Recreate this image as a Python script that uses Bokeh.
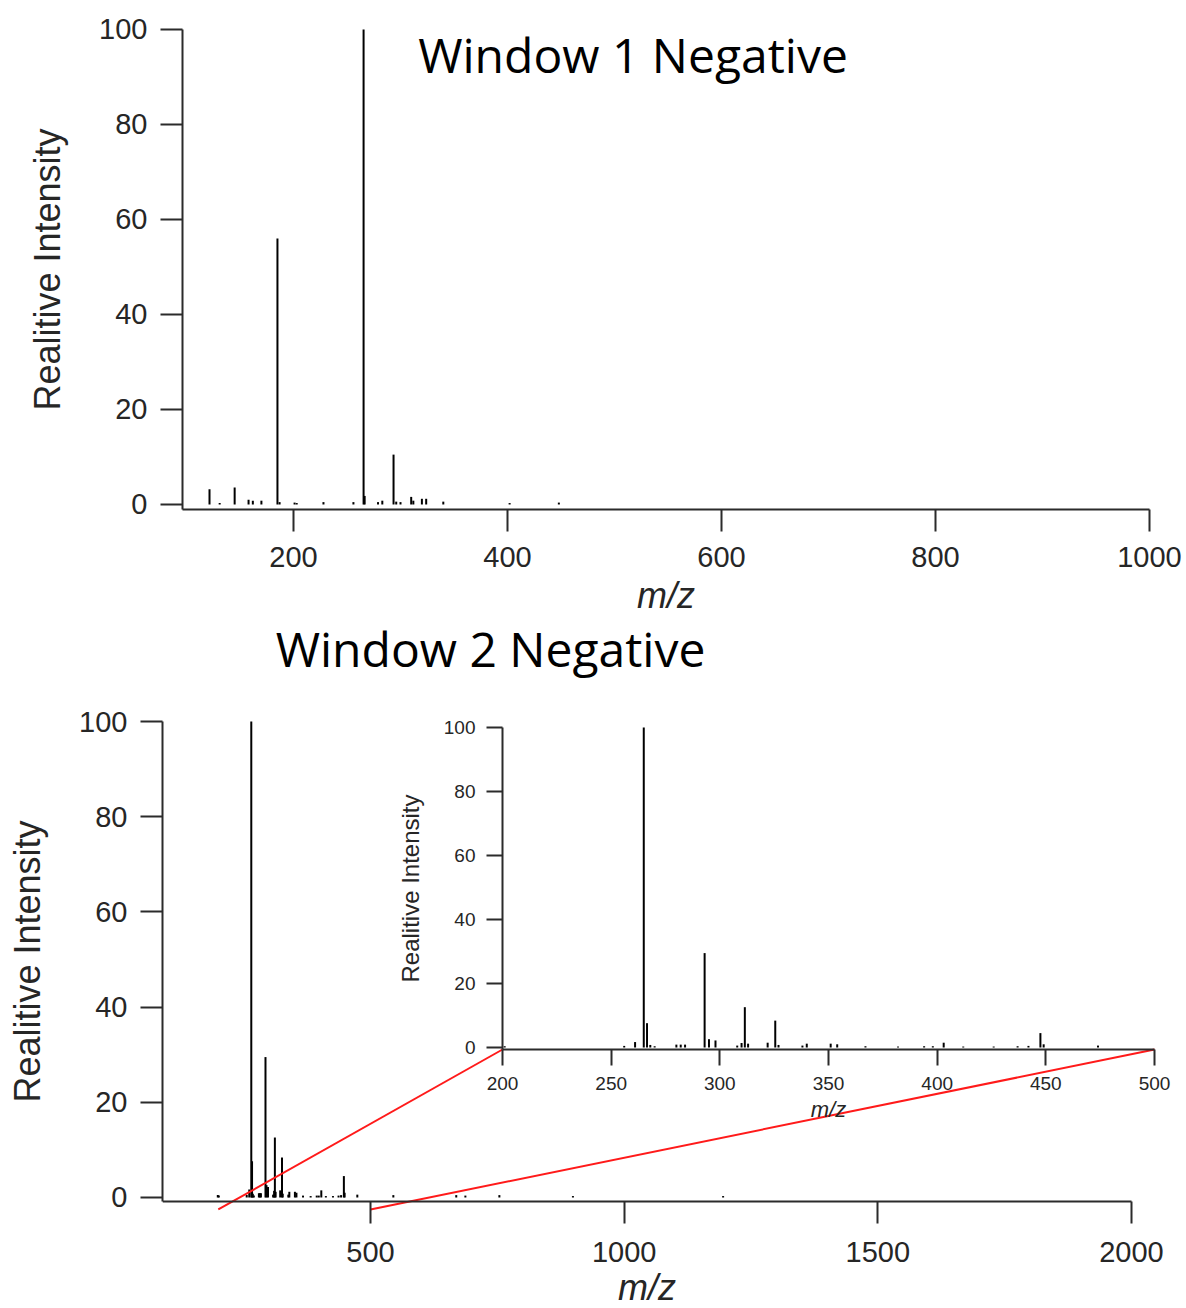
from bokeh.plotting import figure
from bokeh.models import Range1d, LinearAxis, FixedTicker, Label
from bokeh.layouts import column
from bokeh.embed import file_html
from bokeh.resources import INLINE

# ---------------- data ----------------
w1_title = "Window 1 Negative"
w1_mz = [121.5, 131, 145, 158, 162, 170, 185, 187, 201, 203, 228, 256, 265.5, 266.5,
         279, 283, 293.5, 296, 300, 310, 312, 320, 324, 340, 402, 448]
w1_int = [3.2, 0.3, 3.6, 1.0, 0.8, 0.8, 56, 0.5, 0.4, 0.3, 0.5, 0.5, 100, 1.8,
          0.5, 0.8, 10.5, 0.6, 0.5, 1.6, 0.8, 1.2, 1.2, 0.6, 0.3, 0.4]
w1_xticks = [200, 400, 600, 800, 1000]

w2_title = "Window 2 Negative"
w2_mz = [199, 201, 256, 261, 265, 266.5, 268, 270, 280, 282, 284, 293, 295, 298,
         308, 310, 311.5, 313, 322, 325.5, 327, 338, 340, 351, 354, 367, 382, 394,
         398, 403, 412, 426, 437, 442, 447.5, 449, 474, 545, 669, 687, 754, 899, 1195]
w2_int = [0.5, 0.4, 0.5, 1.7, 100, 7.6, 0.8, 0.4, 0.9, 0.9, 0.9, 29.5, 2.6, 2.2,
          0.6, 1.4, 12.6, 1.2, 1.5, 8.4, 0.8, 0.6, 1.2, 1.2, 1.0, 0.4, 0.3, 0.4,
          0.4, 1.5, 0.3, 0.3, 0.4, 0.5, 4.5, 1.0, 0.6, 0.5, 0.5, 0.4, 0.5, 0.3, 0.3]
w2_xticks = [500, 1000, 1500, 2000]
zoom_window = [200, 500]
inset_xticks = [200, 250, 300, 350, 400, 450, 500]
yticks = [0, 20, 40, 60, 80, 100]

y_label = "Realitive Intensity"
x_label = "m/z"

# ---------------- style ----------------
AX = "#2b2b2b"
TXT = "#262626"
FONT = "Liberation Sans"
W = 1186


def style_axis(ax, font_px, title_px, tick_out, lab_standoff, title_standoff,
               italic=False, lw=2):
    ax.axis_line_color = AX
    ax.axis_line_width = lw
    ax.major_tick_line_color = AX
    ax.major_tick_line_width = lw
    ax.major_tick_in = 0
    ax.major_tick_out = tick_out
    ax.minor_tick_line_color = None
    ax.major_label_text_font = FONT
    ax.major_label_text_font_size = f"{font_px}px"
    ax.major_label_text_color = TXT
    ax.major_label_standoff = lab_standoff
    ax.axis_label_text_font = FONT
    ax.axis_label_text_font_size = f"{title_px}px"
    ax.axis_label_text_font_style = "italic" if italic else "normal"
    ax.axis_label_text_color = TXT
    ax.axis_label_standoff = title_standoff


def base_fig(height, xr, yr, bl):
    # frame fills the figure (apart from an optional left panel); axes sit at fixed data locations
    p = figure(width=W, height=height, x_range=xr, y_range=yr,
               output_backend="svg", toolbar_location=None, title=None,
               min_border_left=bl, min_border_right=0,
               min_border_top=0, min_border_bottom=0,
               frame_align=False,
               x_axis_label=x_label, y_axis_label=y_label)
    p.xgrid.visible = False
    p.ygrid.visible = False
    p.outline_line_color = None
    p.background_fill_color = "white"
    p.border_fill_color = "white"
    return p


# ---------------- Window 1 ----------------
ax1_y = -1.05
ax1_x = 96.26
p1 = base_fig(614, Range1d(-73.84, 1034.6), Range1d(-23.16, 106.1), 0)
p1.xaxis.ticker = FixedTicker(ticks=w1_xticks)
p1.yaxis.ticker = FixedTicker(ticks=yticks)
p1.xaxis.fixed_location = ax1_y
p1.yaxis.fixed_location = ax1_x
p1.xaxis.bounds = (ax1_x, w1_xticks[-1])
p1.yaxis.bounds = (ax1_y, 100)
style_axis(p1.xaxis[0], 29, 36, 22, 16, 4, italic=True)
style_axis(p1.yaxis[0], 29, 36, 22, 13, 28)
p1.segment(x0=w1_mz, y0=[0] * len(w1_mz), x1=w1_mz, y1=w1_int,
           line_color="black", line_width=2)
p1.add_layout(Label(x=517.3, y=94.8, text=w1_title, text_align="center",
                    text_baseline="alphabetic", text_font="Open Sans",
                    text_font_size="48px", text_color="black"))

# ---------------- Window 2 ----------------
mx0, mx1 = 90.0, 2108.4
my0, my1 = -23.32, 122.48
axis_y = -0.84
p2 = base_fig(694, Range1d(mx0, mx1), Range1d(my0, my1), 162)
p2.xaxis.ticker = FixedTicker(ticks=w2_xticks)
p2.yaxis.ticker = FixedTicker(ticks=yticks)
p2.xaxis.fixed_location = axis_y
p2.xaxis.bounds = (mx0, w2_xticks[-1])
p2.yaxis.bounds = (axis_y, 100)
style_axis(p2.xaxis[0], 29, 36, 22, 19, 1, italic=True)
style_axis(p2.yaxis[0], 29, 36, 22, 13, 28)
p2.segment(x0=w2_mz, y0=[0] * len(w2_mz), x1=w2_mz, y1=w2_int,
           line_color="black", line_width=2)

# inset: its own ranges laid over the same frame
ix0, ix1 = 43.56, 514.72
iy0, iy1 = -81.56, 135.31
inset_axis_y = -0.625
p2.extra_x_ranges = {"ix": Range1d(ix0, ix1)}
p2.extra_y_ranges = {"iy": Range1d(iy0, iy1)}

ins_mz = [m for m in w2_mz if zoom_window[0] <= m <= zoom_window[1]]
ins_int = [i for m, i in zip(w2_mz, w2_int) if zoom_window[0] <= m <= zoom_window[1]]
p2.segment(x0=ins_mz, y0=[0] * len(ins_mz), x1=ins_mz, y1=ins_int,
           line_color="black", line_width=2, x_range_name="ix", y_range_name="iy")

ixa = LinearAxis(x_range_name="ix", y_range_name="iy", axis_label=x_label,
                 ticker=FixedTicker(ticks=inset_xticks),
                 fixed_location=inset_axis_y, bounds=tuple(zoom_window))
style_axis(ixa, 19, 22, 16, 11, 4, italic=True)
p2.add_layout(ixa, "below")
iya = LinearAxis(x_range_name="ix", y_range_name="iy", axis_label=y_label,
                 ticker=FixedTicker(ticks=yticks),
                 fixed_location=zoom_window[0], bounds=(inset_axis_y, 100))
style_axis(iya, 19, 24, 16, 11, 17)
p2.add_layout(iya, "left")


def inset_to_main(ix, iy):
    x = mx0 + (ix - ix0) * (mx1 - mx0) / (ix1 - ix0)
    y = my0 + (iy - iy0) * (my1 - my0) / (iy1 - iy0)
    return x, y


zoom_base_y = -2.52
cx0, cy0 = inset_to_main(zoom_window[0], inset_axis_y)
cx1, cy1 = inset_to_main(zoom_window[1], inset_axis_y)
p2.segment(x0=zoom_window, y0=[zoom_base_y, zoom_base_y], x1=[cx0, cx1], y1=[cy0, cy1],
           line_color="#ff1a1a", line_width=2)

p2.add_layout(Label(x=736.5, y=115.37, text=w2_title, text_align="center",
                    text_baseline="alphabetic", text_font="Open Sans",
                    text_font_size="48px", text_color="black"))

layout = column(p1, p2)
open("out.html", "w").write(file_html(layout, INLINE))
